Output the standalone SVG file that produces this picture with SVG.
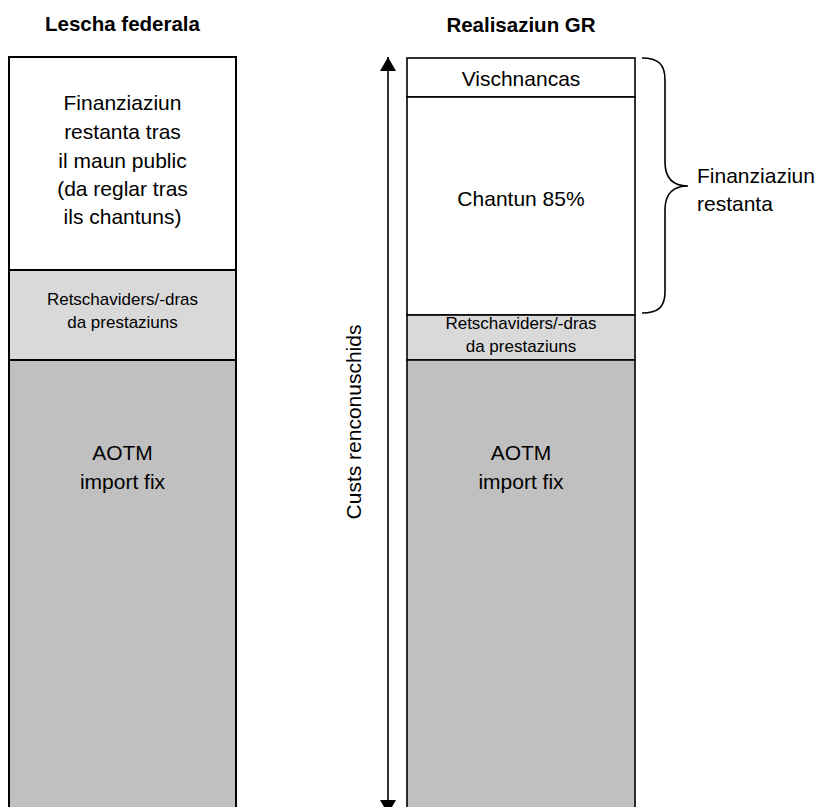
<svg xmlns="http://www.w3.org/2000/svg" width="819" height="807" viewBox="0 0 819 807">
<style>
text{font-family:"Liberation Sans",Arial,sans-serif;fill:#000}
.t{font-size:21px;text-anchor:middle}
.s{font-size:17px;text-anchor:middle}
.h{font-size:20.5px;font-weight:bold;text-anchor:middle}
.box{stroke:#000;stroke-width:2}
.w{fill:#fff}.l{fill:#d9d9d9}.d{fill:#c0c0c0}
.ln{fill:none;stroke:#000;stroke-width:1.6}
</style>
<defs>
<marker id="ah" viewBox="0 0 14 16" refX="14" refY="8" markerWidth="14" markerHeight="16" markerUnits="userSpaceOnUse" orient="auto">
<path d="M0,0 L14,8 L0,16 Z" fill="#000"/>
</marker>
</defs>
<rect width="819" height="807" fill="#fff"/>
<g id="title-left"><text class="h" x="122.5" y="31">Lescha federala</text></g>
<g id="title-right"><text class="h" x="521" y="32">Realisaziun GR</text></g>

<g id="left-rest">
<rect class="box w" x="9" y="57" width="227" height="213"/>
<text class="t" x="122.5" y="110">Finanziaziun</text>
<text class="t" x="122.5" y="139">restanta tras</text>
<text class="t" x="122.5" y="168">il maun public</text>
<text class="t" x="122.5" y="196">(da reglar tras</text>
<text class="t" x="122.5" y="224">ils chantuns)</text>
</g>
<g id="left-retsch">
<rect class="box l" x="9" y="270" width="227" height="90"/>
<text class="s" x="122.5" y="305">Retschaviders/-dras</text>
<text class="s" x="122.5" y="328">da prestaziuns</text>
</g>
<g id="left-aotm">
<rect class="box d" x="9" y="360" width="227" height="470"/>
<text class="t" x="122.5" y="460">AOTM</text>
<text class="t" x="122.5" y="489">import fix</text>
</g>

<g id="right-visch">
<rect class="box w" x="407" y="58" width="228" height="39" style="stroke-width:1.6"/>
<text class="t" x="521" y="86">Vischnancas</text>
</g>
<g id="right-chantun">
<rect class="box w" x="407" y="97" width="228" height="218" style="stroke-width:1.6"/>
<text class="t" x="521" y="206">Chantun 85%</text>
</g>
<g id="right-retsch">
<rect class="box l" x="407" y="315" width="228" height="45" style="stroke-width:1.6"/>
<text class="s" x="521" y="329">Retschaviders/-dras</text>
<text class="s" x="521" y="352">da prestaziuns</text>
</g>
<g id="right-aotm">
<rect class="box d" x="407" y="360" width="228" height="470" style="stroke-width:1.6"/>
<text class="t" x="521" y="460">AOTM</text>
<text class="t" x="521" y="489">import fix</text>
</g>

<g id="connectors">
<line class="ln" x1="388" y1="420" x2="388" y2="57" marker-end="url(#ah)"/>
<line class="ln" x1="388" y1="420" x2="388" y2="814" marker-end="url(#ah)"/>
<path class="ln" d="M642,58 C658,58 665,64 665,80 L665,162 C665,178 672,186 688,186 C672,186 665,194 665,210 L665,292 C665,307 658,313 642,313"/>
</g>
<g id="label-custs"><text class="t" transform="translate(361,422) rotate(-90)" x="0" y="0">Custs renconuschids</text></g>
<g id="label-fin">
<text style="font-size:21px" x="697" y="183">Finanziaziun</text>
<text style="font-size:21px" x="697" y="211">restanta</text>
</g>
</svg>
